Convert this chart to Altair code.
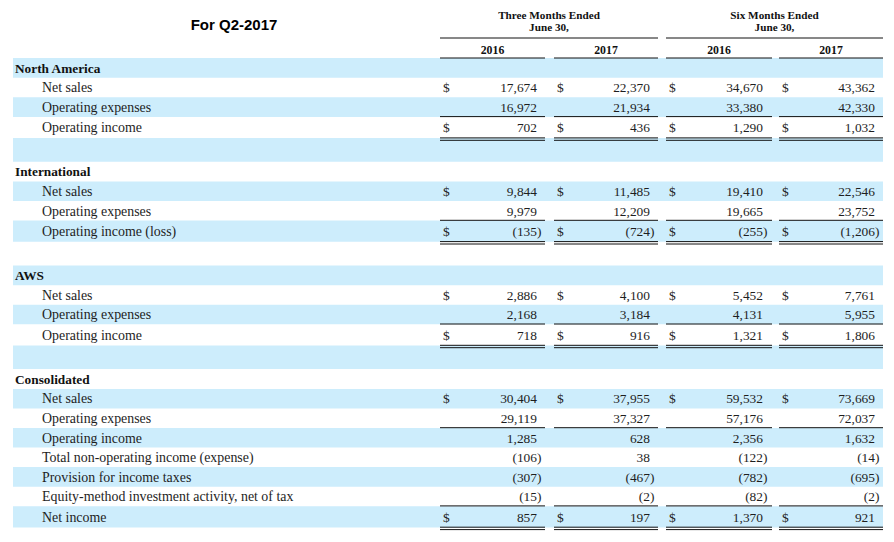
import altair as alt
import pandas as pd

# ---------------- data ----------------
title_text = "For Q2-2017"
group_labels = [["Three Months Ended", "June 30,"], ["Six Months Ended", "June 30,"]]
year_labels = ["2016", "2017", "2016", "2017"]

row_labels = [
    "North America", "Net sales", "Operating expenses", "Operating income", "",
    "International", "Net sales", "Operating expenses", "Operating income (loss)", "",
    "AWS", "Net sales", "Operating expenses", "Operating income", "",
    "Consolidated", "Net sales", "Operating expenses", "Operating income",
    "Total non-operating income (expense)", "Provision for income taxes",
    "Equity-method investment activity, net of tax", "Net income",
]
section_rows = [0, 5, 10, 15]
spacer_rows = [4, 9, 14]

q2_2016 = [None, 17674, 16972, 702, None, None, 9844, 9979, -135, None, None, 2886, 2168, 718, None,
           None, 30404, 29119, 1285, -106, -307, -15, 857]
q2_2017 = [None, 22370, 21934, 436, None, None, 11485, 12209, -724, None, None, 4100, 3184, 916, None,
           None, 37955, 37327, 628, 38, -467, -2, 197]
h1_2016 = [None, 34670, 33380, 1290, None, None, 19410, 19665, -255, None, None, 5452, 4131, 1321, None,
           None, 59532, 57176, 2356, -122, -782, -82, 1370]
h1_2017 = [None, 43362, 42330, 1032, None, None, 22546, 23752, -1206, None, None, 7761, 5955, 1806, None,
           None, 73669, 72037, 1632, -14, -695, -2, 921]
series = [q2_2016, q2_2017, h1_2016, h1_2017]

dollar_rows = [1, 3, 6, 8, 11, 13, 16, 22]
single_rule_rows = [2, 7, 12, 17, 21]
double_rule_rows = [3, 8, 13, 22]

# ---------------- layout (reference pixel units) ----------------
W, H = 878, 526
TOP = 58
H_HEAD, H_ROW, H_TOT, H_SP = 19.8, 19.55, 21.2, 23.6
NROWS = len(row_labels)

col_left = [440, 554, 666, 779]
col_right = [545, 658, 772, 883]
num_right = [537, 650, 763, 875]
dollar_x = [443, 557, 669, 782]
band_x = (13, 883)
FONT = "Liberation Serif"
TXT = "#1e1e1e"
DY = 0.8

xs = alt.Scale(domain=[8, 8 + W], range=[0, W], nice=False, zero=False)
ys = alt.Scale(domain=[8, 8 + H], reverse=True, nice=False, zero=False)


def X(f):
    return alt.X(f, type="quantitative", scale=xs, axis=None)


def Y(f):
    return alt.Y(f, type="quantitative", scale=ys, axis=None)


# ---------------- row geometry ----------------
heights = []
for r in range(NROWS):
    if r in section_rows:
        heights.append(H_HEAD)
    elif r in spacer_rows:
        heights.append(H_SP)
    elif r in double_rule_rows:
        heights.append(H_TOT)
    else:
        heights.append(H_ROW)
tops = [TOP]
for h in heights[:-1]:
    tops.append(tops[-1] + h)
bots = [t + h for t, h in zip(tops, heights)]
mids = [(t + b) / 2 + DY for t, b in zip(tops, bots)]

rows = pd.DataFrame({"row": range(NROWS), "label": row_labels, "y0": tops, "y1": bots, "mid": mids})
rows["section"] = rows["row"].isin(section_rows)
rows["lx"] = rows["section"].map({True: 15, False: 42})
bands = rows[rows["row"] % 2 == 0].copy()
bands["x0"], bands["x1"] = band_x

cells = []
for c, vals in enumerate(series):
    for r, v in enumerate(vals):
        if v is None:
            continue
        neg = v < 0
        cells.append({
            "row": r, "mid": mids[r], "x": num_right[c],
            "text": ("(" if neg else "") + f"{abs(v):,}",
            "neg": neg,
        })
cells = pd.DataFrame(cells)
parens = cells[cells["neg"]].assign(text=")")

dollars = pd.DataFrame([{"mid": mids[r], "x": dollar_x[c], "text": "$"}
                        for r in dollar_rows for c in range(4)])

rules = []
for r in single_rule_rows:
    for c in range(4):
        rules.append({"x0": col_left[c], "x1": col_right[c], "y": bots[r] - 0.3})
for r in double_rule_rows:
    for c in range(4):
        rules.append({"x0": col_left[c], "x1": col_right[c], "y": bots[r] - 0.2})
        rules.append({"x0": col_left[c], "x1": col_right[c], "y": bots[r] + 2.2})
# header rules
for g in range(2):
    rules.append({"x0": col_left[2 * g], "x1": col_right[2 * g + 1], "y": 38})
for c in range(4):
    rules.append({"x0": col_left[c], "x1": col_right[c], "y": TOP})
rules = pd.DataFrame(rules)

groups = pd.DataFrame([
    {"x": (col_left[2 * g] + col_right[2 * g + 1]) / 2, "y": 16 if i == 0 else 28, "text": t}
    for g in range(2) for i, t in enumerate(group_labels[g])
])
years = pd.DataFrame({"x": [(col_left[c] + col_right[c]) / 2 for c in range(4)],
                      "y": [50] * 4, "text": year_labels})
title = pd.DataFrame({"x": [234], "y": [25], "text": [title_text]})

# ---------------- layers ----------------
band_layer = alt.Chart(bands).mark_rect(color="#cdedfc").encode(
    x=X("x0"), x2="x1", y=Y("y0"), y2="y1")

labels = rows[rows["label"] != ""]
section_layer = alt.Chart(labels[labels["section"]]).mark_text(
    align="left", baseline="middle", font=FONT, fontSize=13.3, fontWeight="bold", color="#111111"
).encode(x=X("lx"), y=Y("mid"), text="label:N")

label_layer = alt.Chart(labels[~labels["section"]]).mark_text(
    align="left", baseline="middle", font=FONT, fontSize=13.9, color=TXT
).encode(x=X("lx"), y=Y("mid"), text="label:N")

num_layer = alt.Chart(cells).mark_text(
    align="right", baseline="middle", font=FONT, fontSize=13.4, color=TXT
).encode(x=X("x"), y=Y("mid"), text="text:N")

paren_layer = alt.Chart(parens).mark_text(
    align="left", baseline="middle", font=FONT, fontSize=13.4, color=TXT
).encode(x=X("x"), y=Y("mid"), text="text:N")

dollar_layer = alt.Chart(dollars).mark_text(
    align="left", baseline="middle", font=FONT, fontSize=13.4, color=TXT
).encode(x=X("x"), y=Y("mid"), text="text:N")

rule_layer = alt.Chart(rules).mark_rule(color="#111111", strokeWidth=1).encode(
    x=X("x0"), x2="x1", y=Y("y"))

group_layer = alt.Chart(groups).mark_text(
    align="center", baseline="middle", font=FONT, fontSize=11.2, fontWeight="bold", color="#111111"
).encode(x=X("x"), y=Y("y"), text="text:N")

year_layer = alt.Chart(years).mark_text(
    align="center", baseline="middle", font=FONT, fontSize=11.8, fontWeight="bold", color="#111111"
).encode(x=X("x"), y=Y("y"), text="text:N")

title_layer = alt.Chart(title).mark_text(
    align="center", baseline="middle", font="Liberation Sans", fontSize=15, fontWeight="bold", color="#000000"
).encode(x=X("x"), y=Y("y"), text="text:N")

chart = alt.layer(
    band_layer, rule_layer, section_layer, label_layer, num_layer, paren_layer, dollar_layer,
    group_layer, year_layer, title_layer
).properties(
    width=W, height=H, padding=0, autosize="none", background="white"
).configure_view(stroke=None)

chart.save("out.html", embed_options={"renderer": "svg", "actions": False})
